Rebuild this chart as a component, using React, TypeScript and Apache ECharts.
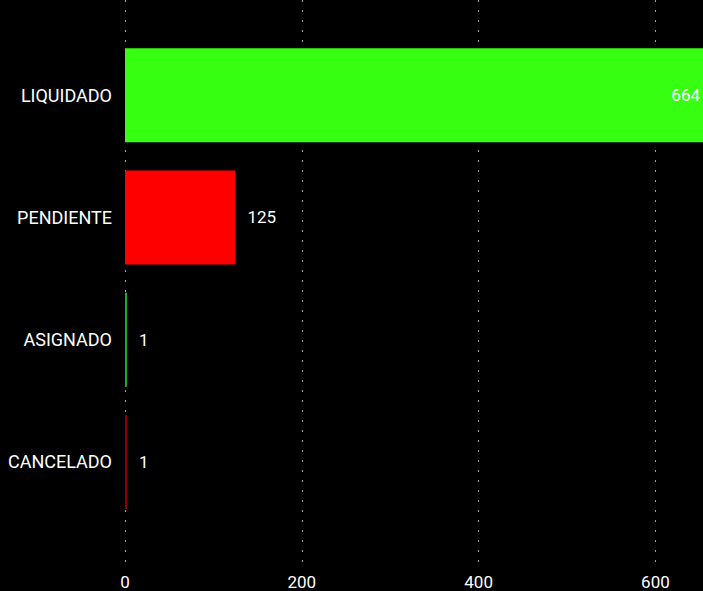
import React, { useEffect, useRef } from "react";
import * as echarts from "echarts";

const categories = ["LIQUIDADO", "PENDIENTE", "ASIGNADO", "CANCELADO"];
const values = [664, 125, 1, 1];
const barColors = ["#36ff12", "#ff0000", "#14b02c", "#8c0000"];
const xTicks = [0, 200, 400, 600];

export default function App() {
  const ref = useRef<HTMLDivElement>(null);
  useEffect(() => {
    if (!ref.current) return;
    document.body.style.margin = "0";
    document.body.style.background = "#000";
    document.body.style.overflow = "hidden";
    document.documentElement.style.overflow = "hidden";
    const chart = echarts.init(ref.current, undefined, { renderer: "svg" });
    const font = "Roboto, 'Segoe UI', sans-serif";
    const xMax = Math.max(...values);
    chart.setOption({
      animation: false,
      backgroundColor: "#000",
      textStyle: { fontFamily: font },
      grid: [
        { left: 125, right: 0, top: 0, height: 565, containLabel: false },
        { left: 125, right: 0, top: 34, height: 489, containLabel: false },
      ],
      xAxis: [
        {
          gridIndex: 0,
          type: "value",
          min: xTicks[0],
          max: xMax,
          interval: xTicks[1] - xTicks[0],
          axisLine: { show: false },
          axisTick: { show: false },
          axisLabel: {
            color: "#fff",
            fontSize: 17,
            fontFamily: font,
            margin: 8,
            showMaxLabel: false,
          },
          splitLine: {
            show: true,
            lineStyle: { color: "#9a9a9a", width: 1, type: [2, 8] },
          },
        },
        {
          gridIndex: 1,
          type: "value",
          min: xTicks[0],
          max: xMax,
          show: false,
          splitLine: { show: false },
        },
      ],
      yAxis: [
        {
          gridIndex: 0,
          type: "category",
          data: categories,
          inverse: true,
          show: false,
        },
        {
          gridIndex: 1,
          type: "category",
          data: categories,
          inverse: true,
          axisLine: { show: false },
          axisTick: { show: false },
          splitLine: { show: false },
          axisLabel: {
            color: "#fff",
            fontSize: 18,
            fontFamily: font,
            margin: 13,
            padding: [2, 0, 0, 0],
          },
        },
      ],
      series: [
        {
          type: "bar",
          xAxisIndex: 1,
          yAxisIndex: 1,
          barWidth: 94,
          barMinHeight: 2,
          data: values.map((v, i) => ({
            value: v,
            itemStyle: { color: barColors[i] },
            label: {
              position: v === xMax ? "insideRight" : "right",
            },
          })),
          label: {
            show: true,
            color: "#fff",
            fontSize: 17,
            fontFamily: font,
            distance: 12,
          },
        },
      ],
    });
    return () => chart.dispose();
  }, []);
  return (
    <div
      ref={ref}
      style={{ position: "fixed", left: 0, top: 0, width: 712, height: 591, background: "#000" }}
    />
  );
}
